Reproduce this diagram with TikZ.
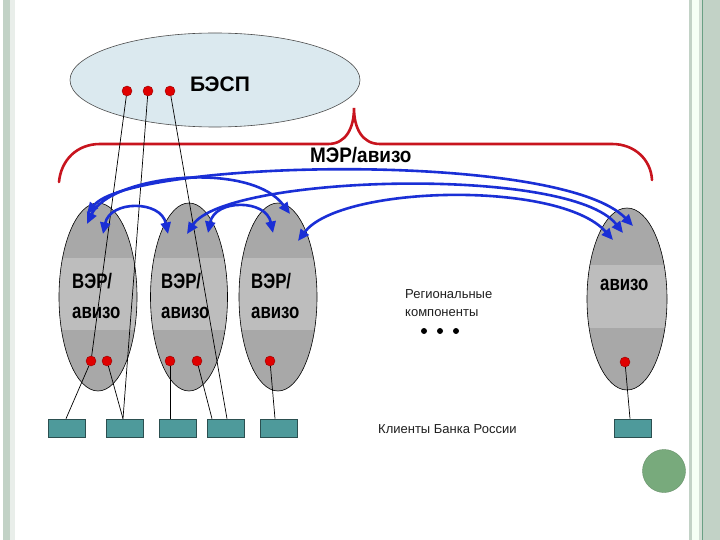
\documentclass[tikz,border=0pt]{standalone}
\usepackage{fontspec}
\usepackage{graphicx}
\setmainfont{Liberation Sans}
\usetikzlibrary{arrows.meta,shapes.geometric}
\definecolor{bespfill}{HTML}{DBE9EF}
\definecolor{ergray}{HTML}{A8A8A8}
\definecolor{erband}{HTML}{BDBDBD}
\definecolor{teal2}{HTML}{4E9A9B}
\definecolor{tealdark}{HTML}{2B4F50}
\definecolor{arcblue}{HTML}{1A2FD6}
\definecolor{bracered}{HTML}{C8141E}
\definecolor{dotred}{HTML}{E00000}
\definecolor{stripe}{HTML}{C2D2C6}
\definecolor{stripelight}{HTML}{D2DDD4}
\definecolor{stripeline}{HTML}{6AA084}
\definecolor{ballgreen}{HTML}{78AA7C}
\tikzset{
  regellipse/.style={ellipse, draw=black, line width=0.6pt, fill=ergray, inner sep=0pt,
    path picture={\fill[erband] ([yshift=39pt]path picture bounding box.west) rectangle ([yshift=-33pt]path picture bounding box.east);}},
  reddot/.style={circle, fill=dotred, draw=red!60!black, line width=0.4pt, minimum size=10pt, inner sep=0pt},
  client/.style={rectangle, fill=teal2, draw=tealdark, line width=0.6pt, minimum width=37pt, minimum height=18pt, inner sep=0pt},
  conn/.style={draw=black, line width=0.7pt},
  arc/.style={draw=arcblue, line width=2.6pt, {Triangle[length=11.5pt,width=10pt]}-{Triangle[length=11.5pt,width=10pt]}},
  bigtxt/.style={font=\fontsize{21}{21}\selectfont\bfseries, inner sep=0pt},
  smalltxt/.style={font=\fontsize{13}{13}\selectfont, text=black!88, inner sep=0pt}
}
\begin{document}
\begin{tikzpicture}[x=1pt,y=-1pt]
\useasboundingbox (0,0) rectangle (720,540);
\fill[white] (0,0) rectangle (720,540);
% page borders
\fill[stripe] (3,0) rectangle (10,540);
\fill[stripelight!50!white] (10,0) rectangle (15,540);
\fill[stripe] (689,0) rectangle (692,540);
\fill[white!96!green] (692,0) rectangle (699,540);
\fill[stripelight] (699,0) rectangle (702,540);
\fill[stripeline] (702,0) rectangle (703.2,540);
\fill[stripe] (703.2,0) rectangle (720,540);
\node[circle, fill=ballgreen, draw=ballgreen!85!black, line width=0.4pt, minimum size=43pt, inner sep=0pt] (ball) at (664,471) {};

% BESP
\node[ellipse, draw=black!70, line width=0.6pt, fill=bespfill, minimum width=290pt, minimum height=94pt, inner sep=0pt] (besp) at (215,80) {};
\node[bigtxt, anchor=base] (bespt) at (220,91.5) {БЭСП};
\node[reddot] (b1) at (127,91) {};
\node[reddot] (b2) at (148,91) {};
\node[reddot] (b3) at (170,91) {};

% brace
\draw[bracered, line width=2.6pt, line cap=round]
  (59,182) .. controls (61,160) and (77,144) .. (100,144)
  -- (328,144) .. controls (346,144) and (354,128) .. (354,108)
  .. controls (354,128) and (362,144) .. (380,144)
  -- (612,144) .. controls (635,144) and (651,160) .. (652,180);
\node[bigtxt, anchor=base west] (mer) at (310,163) {\scalebox{0.9}[1]{МЭР/авизо}};

% regional ellipses
\node[regellipse, minimum width=78pt, minimum height=188pt] (r1) at (98,297) {};
\node[regellipse, minimum width=77pt, minimum height=188pt] (r2) at (189,297) {};
\node[regellipse, minimum width=78pt, minimum height=188pt] (r3) at (278,297) {};
\node[regellipse, minimum width=80pt, minimum height=182pt,
  path picture={\fill[erband] ([yshift=34pt]path picture bounding box.west) rectangle ([yshift=-29pt]path picture bounding box.east);}] (r4) at (627,299) {};

\node[bigtxt, anchor=base west] (t1a) at (72,288) {\scalebox{0.8}[1]{ВЭР/}};
\node[bigtxt, anchor=base west] (t1b) at (72,318) {\scalebox{0.8}[1]{авизо}};
\node[bigtxt, anchor=base west] (t2a) at (161,288) {\scalebox{0.8}[1]{ВЭР/}};
\node[bigtxt, anchor=base west] (t2b) at (161,318) {\scalebox{0.8}[1]{авизо}};
\node[bigtxt, anchor=base west] (t3a) at (251,288) {\scalebox{0.8}[1]{ВЭР/}};
\node[bigtxt, anchor=base west] (t3b) at (251,318) {\scalebox{0.8}[1]{авизо}};
\node[bigtxt, anchor=base west] (t4) at (600,290) {\scalebox{0.8}[1]{авизо}};

% dots in regional ellipses
\node[reddot] (e11) at (91,361) {};
\node[reddot] (e12) at (107,361) {};
\node[reddot] (e21) at (170,361) {};
\node[reddot] (e22) at (197,361) {};
\node[reddot] (e31) at (270,361) {};
\node[reddot] (e41) at (625,362) {};

% clients
\node[client] (c1) at (67,428) {};
\node[client] (c2) at (125,428) {};
\node[client] (c3) at (178,428) {};
\node[client] (c4) at (225.5,428) {};
\node[client] (c5) at (279,428) {};
\node[client] (c6) at (633,428) {};

% black connectors
\draw[conn] (b1) -- (e11);
\draw[conn] (b2) -- ([xshift=-2pt]c2.north);
\draw[conn] (b3) -- ([xshift=1.5pt]c4.north);
\draw[conn] (e11) -- ([xshift=-1pt]c1.north);
\draw[conn] (e12) -- ([xshift=-2pt]c2.north);
\draw[conn] (e21) -- ([xshift=-8pt]c3.north);
\draw[conn] (e22) -- ([xshift=-13.5pt]c4.north);
\draw[conn] (e31) -- ([xshift=-4pt]c5.north);
\draw[conn] (e41) -- ([xshift=-3pt]c6.north);

% blue arc endpoints
\coordinate (p1a) at (87,214);
\coordinate (p1b) at (87,224);
\coordinate (p1c) at (103,234);
\coordinate (p2a) at (168,234);
\coordinate (p2b) at (187,234);
\coordinate (p2c) at (208,233);
\coordinate (p3a) at (273,233);
\coordinate (p3b) at (290,214);
\coordinate (p3c) at (298,241);
\coordinate (p4a) at (633,226);
\coordinate (p4b) at (623,233);
\coordinate (p4c) at (613,240);

\draw[arc] (p1a) .. controls (130,160) and (560,150) .. (p4a);
\draw[arc] (p1b) .. controls (110,175) and (250,160) .. (p3b);
\draw[arc] (p2b) .. controls (225,175) and (570,165) .. (p4b);
\draw[arc] (p3c) .. controls (340,185) and (560,180) .. (p4c);
\draw[arc] (p1c) .. controls (110,200) and (161,200) .. (p2a);
\draw[arc] (p2c) .. controls (215,199) and (266,199) .. (p3a);

% texts
\node[smalltxt, anchor=base west] (reg1) at (405,298) {Региональные};
\node[smalltxt, anchor=base west] (reg2) at (405,316) {компоненты};
\fill[black] (424,331) circle (3pt) (440,331) circle (3pt) (456,331) circle (3pt);
\node[smalltxt, anchor=base west] (cli) at (378,433) {Клиенты Банка России};
\end{tikzpicture}
\end{document}
